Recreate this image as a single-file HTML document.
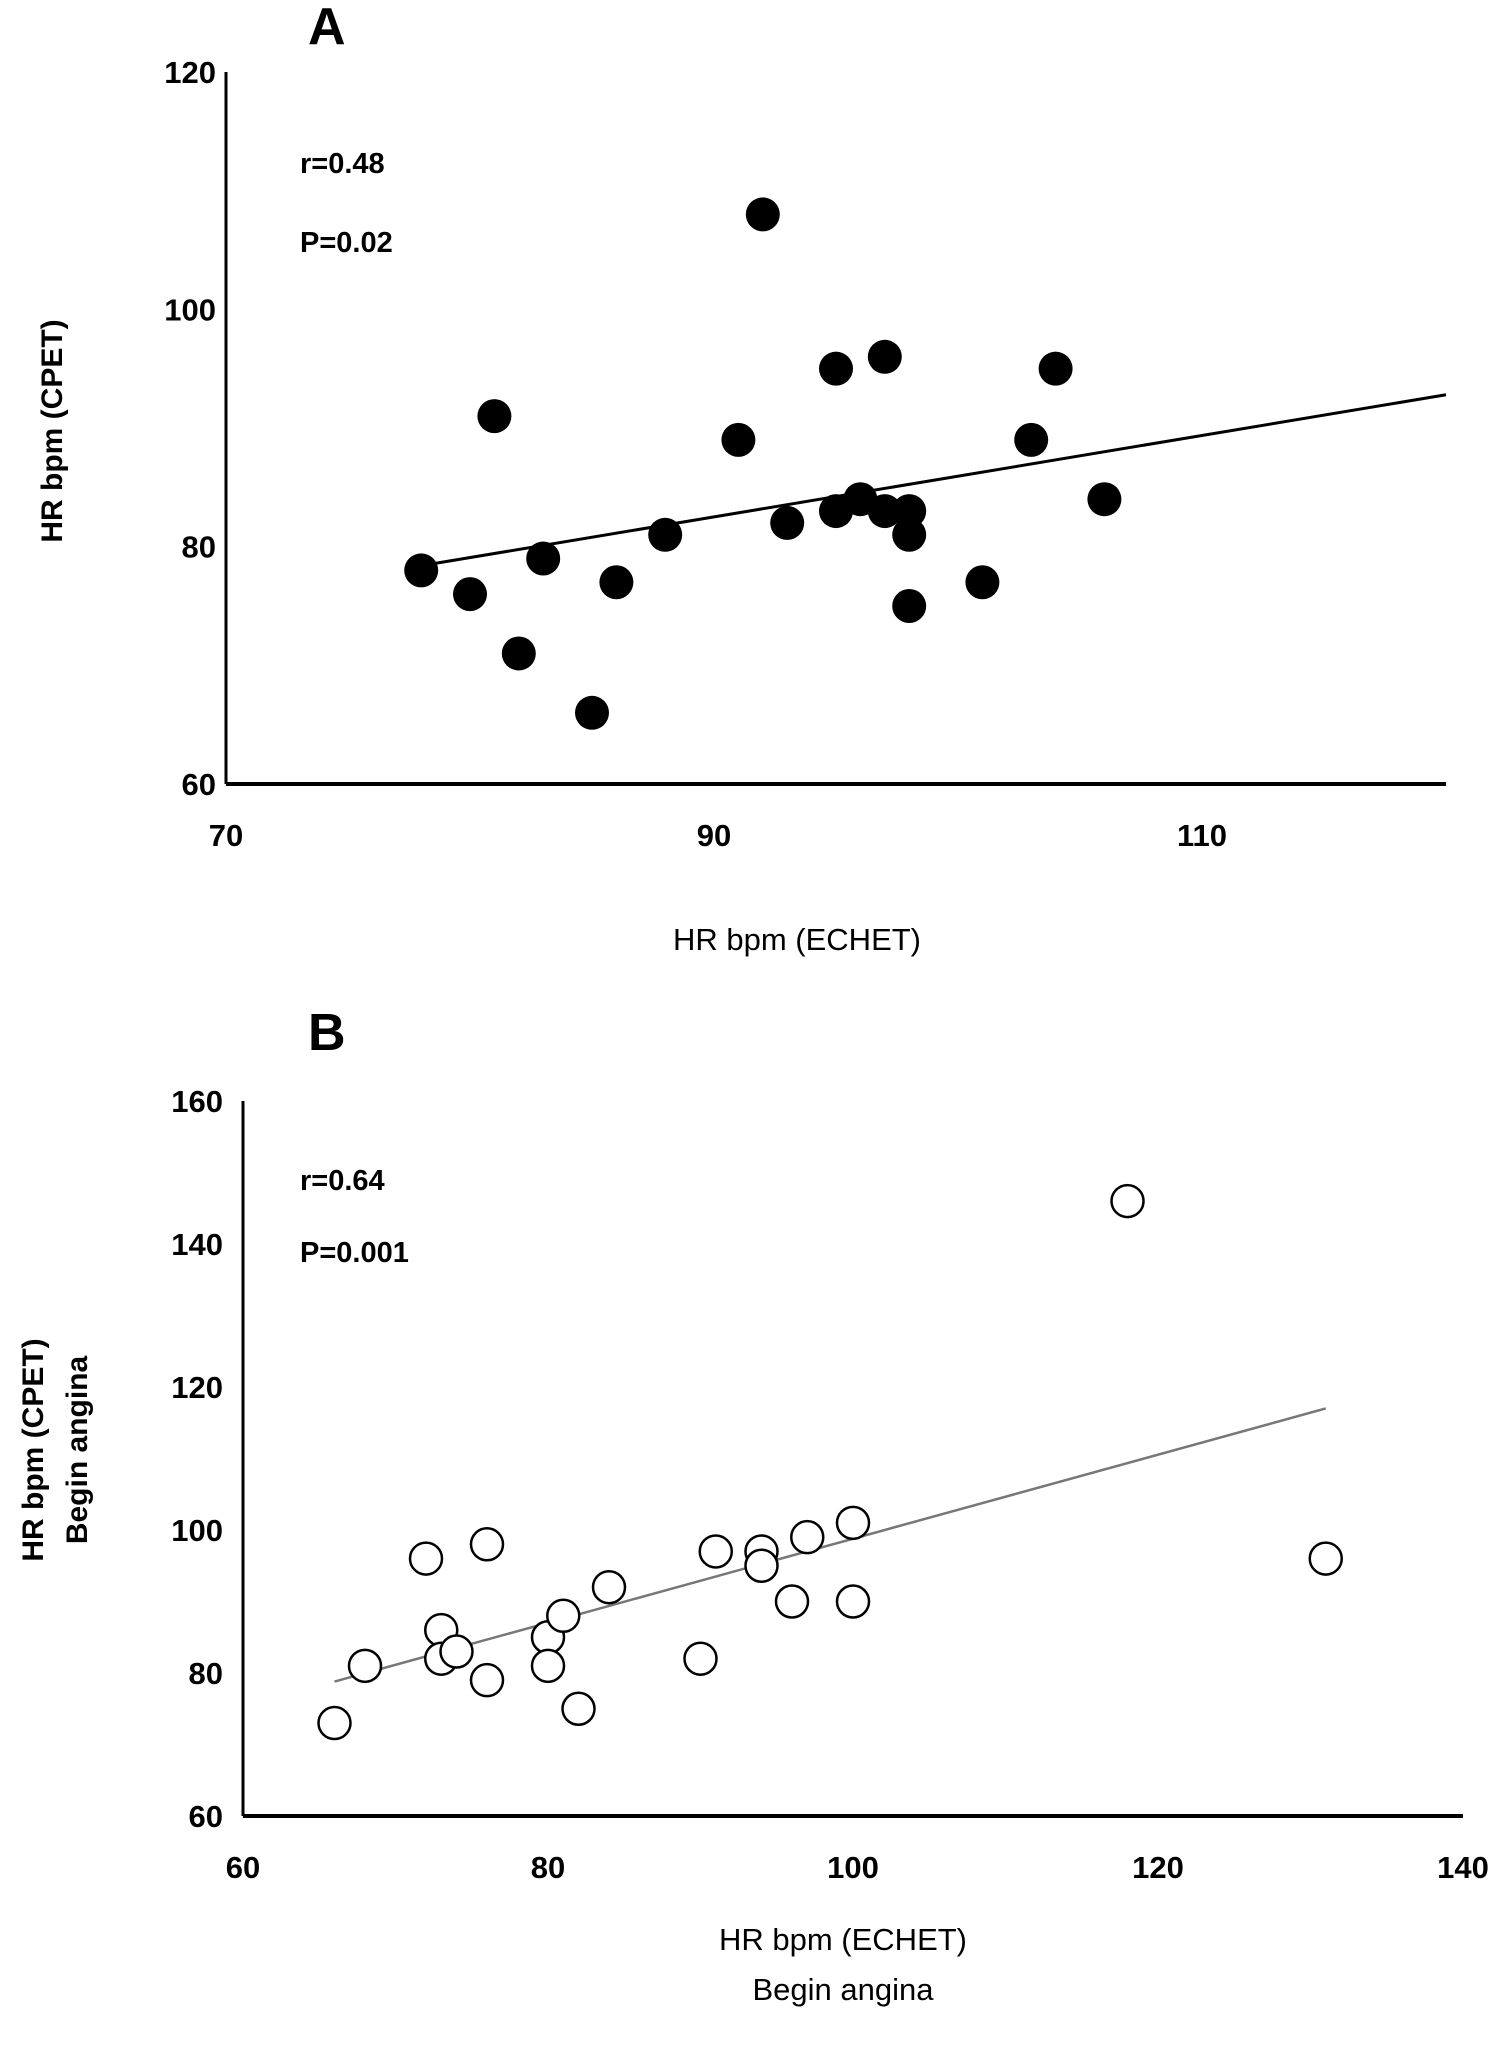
<!DOCTYPE html>
<html><head><meta charset="utf-8"><style>
html,body{margin:0;padding:0;background:#fff;}
svg{display:block;font-family:"Liberation Sans",sans-serif;}
</style></head><body>
<svg id="chart" width="1500" height="2051" viewBox="0 0 1500 2051">
<g id="pa"></g>
<g id="pb"></g>
</svg>
<script>
const aX = [78,80,81,82,83,85,86,88,91,92,93,95,95,96,97,97,98,98,98,101,103,104,106];
const aY = [78,76,91,71,79,66,77,81,89,108,82,95,83,84,96,83,83,81,75,77,89,95,84];
const aTrendX = [78.6,120];
const aTrendY = [78.6,92.8];
const aXTicks = [70,90,110];
const aYTicks = [60,80,100,120];
const bX = [66,68,72,73,73,74,76,76,80,80,81,82,84,90,91,94,94,96,97,100,100,118,131];
const bY = [73,81,96,86,82,83,98,79,85,81,88,75,92,82,97,97,95,90,99,101,90,146,96];
const bTrendX = [66,131];
const bTrendY = [78.8,117];
const bXTicks = [60,80,100,120,140];
const bYTicks = [60,80,100,120,140,160];
const NS='http://www.w3.org/2000/svg';
function mk(parent,tag,attrs,text){const e=document.createElementNS(NS,tag);for(const k in attrs)e.setAttribute(k,attrs[k]);if(text!==undefined)e.textContent=text;parent.appendChild(e);return e;}
function panel(g,cfg){
  const sx=v=>cfg.x0+(v-cfg.xmin)/(cfg.xmax-cfg.xmin)*(cfg.x1-cfg.x0);
  const sy=v=>cfg.y0-(v-cfg.ymin)/(cfg.ymax-cfg.ymin)*(cfg.y0-cfg.y1);
  let e;
  e=mk(g,'line',{x1:cfg.x0,y1:cfg.y1,x2:cfg.x0,y2:cfg.y0,stroke:'#000','stroke-width':3});
  
  
  e=mk(g,'line',{x1:cfg.x0,y1:cfg.y0,x2:cfg.x1,y2:cfg.y0,stroke:'#000','stroke-width':4});
  
  
  cfg.xt.forEach(v=>{
    e=mk(g,'text',{x:sx(v),y:cfg.y0+62,'text-anchor':'middle','font-size':31,'font-weight':'bold'},v);
    
    
  });
  cfg.yt.forEach(v=>{
    e=mk(g,'text',{x:cfg.x0-cfg.gap,y:sy(v)+11,'text-anchor':'end','font-size':31,'font-weight':'bold'},v);
    
    
  });
  e=mk(g,'line',{x1:sx(cfg.tx[0]),y1:sy(cfg.ty[0]),x2:sx(cfg.tx[1]),y2:sy(cfg.ty[1]),stroke:cfg.tc,'stroke-width':cfg.tw});
  
  
  cfg.px.forEach((v,i)=>{
    e=mk(g,'circle',{cx:sx(v),cy:sy(cfg.py[i]),r:cfg.filled?17:16,fill:cfg.filled?'#000':'#fff',stroke:'#000','stroke-width':cfg.filled?0:2.5});
    
    
  });
}
const A=document.getElementById('pa'),B=document.getElementById('pb');
panel(A,{x0:226,x1:1446,y0:784,y1:72,xmin:70,xmax:120,ymin:60,ymax:120,xt:aXTicks,yt:aYTicks,px:aX,py:aY,tx:aTrendX,ty:aTrendY,tc:'#000',tw:3,filled:true,gap:10});
panel(B,{x0:243,x1:1463,y0:1816,y1:1101,xmin:60,xmax:140,ymin:60,ymax:160,xt:bXTicks,yt:bYTicks,px:bX,py:bY,tx:bTrendX,ty:bTrendY,tc:'#777',tw:2.5,filled:false,gap:20});
function t(g,attrs,txt,name){const e=mk(g,'text',attrs,txt);return e;}
t(A,{x:308,y:44,'font-size':52,'font-weight':'bold'},'A','panel-label-a');
t(A,{x:300,y:173,'font-size':29,'font-weight':'bold'},'r=0.48','r-value-a');
t(A,{x:300,y:252,'font-size':29,'font-weight':'bold'},'P=0.02','p-value-a');
t(A,{x:0,y:0,'font-size':30,'font-weight':'bold','text-anchor':'middle',transform:'translate(62,431) rotate(-90)'},'HR bpm (CPET)','y-axis-title-a');
t(A,{x:797,y:950,'font-size':31,'text-anchor':'middle'},'HR bpm (ECHET)','x-axis-title-a');
t(B,{x:308,y:1050,'font-size':52,'font-weight':'bold'},'B','panel-label-b');
t(B,{x:300,y:1190,'font-size':29,'font-weight':'bold'},'r=0.64','r-value-b');
t(B,{x:300,y:1262,'font-size':29,'font-weight':'bold'},'P=0.001','p-value-b');
t(B,{x:0,y:0,'font-size':30,'font-weight':'bold','text-anchor':'middle',transform:'translate(43,1450) rotate(-90)'},'HR bpm (CPET)','y-axis-title-b');
t(B,{x:0,y:0,'font-size':30,'font-weight':'bold','text-anchor':'middle',transform:'translate(87,1450) rotate(-90)'},'Begin angina','y-axis-title-b-line2');
t(B,{x:843,y:1950,'font-size':31,'text-anchor':'middle'},'HR bpm (ECHET)','x-axis-title-b');
t(B,{x:843,y:2000,'font-size':31,'text-anchor':'middle'},'Begin angina','x-axis-title-b-line2');
</script>
</body></html>
